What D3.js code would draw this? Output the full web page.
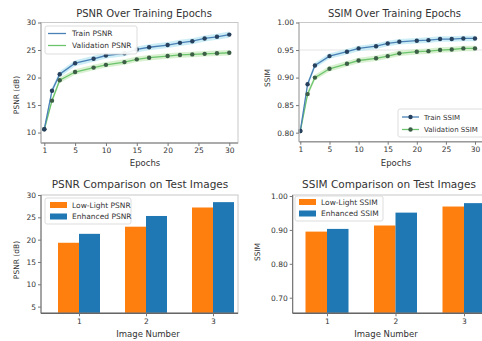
<!DOCTYPE html>
<html><head><meta charset="utf-8">
<script src="https://cdn.jsdelivr.net/npm/d3@7"></script>
<style>
html,body{margin:0;padding:0;background:#fff;}
svg{display:block;font-family:"DejaVu Sans",sans-serif;}
</style></head>
<body><svg id="c" width="482" height="341"></svg>
<script>
// ---- data ----
const epochs = [1,2,3,5,8,10,13,15,17,20,22,24,26,28,30];
const trainPSNR = [10.6,17.6,20.6,22.6,23.4,24.0,24.4,25.1,25.5,25.9,26.3,26.6,27.1,27.4,27.8];
const valPSNR   = [10.6,15.8,19.5,21.0,21.8,22.3,22.8,23.3,23.6,23.9,24.1,24.2,24.3,24.4,24.5];
const trainSSIM = [0.803,0.888,0.922,0.939,0.947,0.953,0.957,0.962,0.965,0.967,0.968,0.970,0.970,0.971,0.971];
const valSSIM   = [0.803,0.870,0.900,0.916,0.925,0.931,0.935,0.939,0.944,0.947,0.948,0.950,0.951,0.953,0.953];
const epochTicks = [1,5,10,15,20,25,30];
const psnrTicks = [10,15,20,25,30];
const ssimTicks = [0.80,0.85,0.90,0.95,1.00];

const images = [1,2,3];
const lowPSNR = [19.3,22.9,27.2];
const enhPSNR = [21.3,25.3,28.4];
const lowSSIM = [0.895,0.913,0.969];
const enhSSIM = [0.903,0.951,0.979];
const barPSNRTicks = [5,10,15,20,25,30];
const barSSIMTicks = [0.70,0.80,0.90,1.00];

const C = {train:"#4a80b5", trainDot:"#26405e", trainBand:"#bfe8f4",
           val:"#6cc46c", valDot:"#3c5e46", valBand:"#cfeec6",
           orange:"#ff7f0e", blue:"#1f77b4", text:"#333"};

const svg = d3.select("#c");

function frame(g, L, R, T, B, strong){
  g.append("rect").attr("x",L).attr("y",T).attr("width",R-L).attr("height",B-T)
   .attr("fill","none").attr("stroke","#c8c8c8").attr("stroke-width",1);
  g.append("line").attr("x1",L).attr("x2",R).attr("y1",B).attr("y2",B)
   .attr("stroke",strong?"#666":"#999").attr("stroke-width",1.4);
  g.append("line").attr("x1",L).attr("x2",L).attr("y1",T).attr("y2",B)
   .attr("stroke",strong?"#666":"#aaa").attr("stroke-width",1);
}
function styleAxis(a){
  a.select(".domain").remove();
  a.selectAll(".tick line").attr("stroke","#777");
  a.selectAll(".tick text").attr("fill",C.text).style("font-size","7.5px").style("font-family","DejaVu Sans");
}
function text(x,y,s,size,anchor,rot){
  const t = svg.append("text").attr("x",x).attr("y",y).text(s)
    .attr("fill",C.text).style("font-size",size+"px").attr("text-anchor",anchor||"middle");
  if(rot) t.attr("transform",`rotate(-90,${x},${y})`);
  return t;
}

// ---------- Panel A: PSNR over epochs ----------
(function(){
  const L=41,R=238,T=22.5,B=143;
  const x = d3.scaleLinear().domain([1,5,30]).range([44.3,75.1,229.3]);
  const y = d3.scaleLinear().domain([8.1,30]).range([B,T]);
  const g = svg.append("g");
  const bandT = d3.area().x((d,i)=>x(epochs[i])).y0(d=>y(d-0.55)).y1(d=>y(d+0.55));
  const bandV = d3.area().x((d,i)=>x(epochs[i])).y0(d=>y(d-0.5)).y1(d=>y(d+0.5));
  g.append("path").datum(trainPSNR).attr("d",bandT).attr("fill",C.trainBand).attr("opacity",0.8);
  g.append("path").datum(valPSNR).attr("d",bandV).attr("fill",C.valBand).attr("opacity",0.8);
  const line = d3.line().x((d,i)=>x(epochs[i])).y(d=>y(d));
  g.append("path").datum(valPSNR).attr("d",line).attr("fill","none").attr("stroke",C.val).attr("stroke-width",1.3);
  g.append("path").datum(trainPSNR).attr("d",line).attr("fill","none").attr("stroke",C.train).attr("stroke-width",1.3);
  g.selectAll(".dv").data(valPSNR).join("circle").attr("cx",(d,i)=>x(epochs[i])).attr("cy",d=>y(d)).attr("r",2.2).attr("fill",C.valDot);
  g.selectAll(".dt").data(trainPSNR).join("circle").attr("cx",(d,i)=>x(epochs[i])).attr("cy",d=>y(d)).attr("r",2.2).attr("fill",C.trainDot);
  frame(g,L,R,T,B,false);
  const ax = g.append("g").attr("transform",`translate(0,${B})`).call(d3.axisBottom(x).tickValues(epochTicks).tickSize(3).tickPadding(2).tickFormat(d3.format("d")));
  styleAxis(ax);
  const ay = g.append("g").attr("transform",`translate(${L},0)`).call(d3.axisLeft(y).tickValues(psnrTicks).tickSize(3).tickPadding(2).tickFormat(d3.format("d")));
  styleAxis(ay);
  const lg = g.append("g");
  lg.append("rect").attr("x",45).attr("y",26).attr("width",92).attr("height",28).attr("rx",2)
    .attr("fill","#fff").attr("fill-opacity",0.92).attr("stroke","#ddd");
  [["Train PSNR",C.train,33.5],["Validation PSNR",C.val,45.5]].forEach(([s,c,yy])=>{
    lg.append("line").attr("x1",48).attr("x2",66).attr("y1",yy).attr("y2",yy).attr("stroke",c).attr("stroke-width",1.3);
    lg.append("text").attr("x",72).attr("y",yy+2.6).text(s).attr("fill",C.text).style("font-size","7.5px");
  });
  text(144,17,"PSNR Over Training Epochs",10);
  text(145,166,"Epochs",8.5);
  text(19,95,"PSNR (dB)",7.5,"middle",true);
})();

// ---------- Panel B: SSIM over epochs ----------
(function(){
  const L=299,R=496,T=22.5,B=141.7;
  const x = d3.scaleLinear().domain([1,5,30]).range([300.3,329.5,475]);
  const y = d3.scaleLinear().domain([0.7836,1.0]).range([B,T]);
  const g = svg.append("g");
  g.append("line").attr("x1",L).attr("x2",R).attr("y1",y(0.95)).attr("y2",y(0.95)).attr("stroke","#ddd").attr("stroke-width",0.8);
  const bandT = d3.area().x((d,i)=>x(epochs[i])).y0(d=>y(d-0.005)).y1(d=>y(d+0.005));
  const bandV = d3.area().x((d,i)=>x(epochs[i])).y0(d=>y(d-0.005)).y1(d=>y(d+0.005));
  g.append("path").datum(trainSSIM).attr("d",bandT).attr("fill",C.trainBand).attr("opacity",0.8);
  g.append("path").datum(valSSIM).attr("d",bandV).attr("fill",C.valBand).attr("opacity",0.8);
  const line = d3.line().x((d,i)=>x(epochs[i])).y(d=>y(d));
  g.append("path").datum(valSSIM).attr("d",line).attr("fill","none").attr("stroke",C.val).attr("stroke-width",1.3);
  g.append("path").datum(trainSSIM).attr("d",line).attr("fill","none").attr("stroke",C.train).attr("stroke-width",1.3);
  g.selectAll(".dv").data(valSSIM).join("circle").attr("cx",(d,i)=>x(epochs[i])).attr("cy",d=>y(d)).attr("r",2.2).attr("fill",C.valDot);
  g.selectAll(".dt").data(trainSSIM).join("circle").attr("cx",(d,i)=>x(epochs[i])).attr("cy",d=>y(d)).attr("r",2.2).attr("fill",C.trainDot);
  frame(g,L,R,T,B,false);
  const ax = g.append("g").attr("transform",`translate(0,${B})`).call(d3.axisBottom(x).tickValues(epochTicks).tickSize(3).tickPadding(2).tickFormat(d3.format("d")));
  styleAxis(ax);
  const ay = g.append("g").attr("transform",`translate(${L},0)`).call(d3.axisLeft(y).tickValues(ssimTicks).tickSize(3).tickPadding(2).tickFormat(d3.format(".2f")));
  styleAxis(ay);
  const lg = g.append("g");
  lg.append("rect").attr("x",398).attr("y",109).attr("width",95).attr("height",28).attr("rx",2)
    .attr("fill","#fff").attr("fill-opacity",0.92).attr("stroke","#ddd");
  [["Train SSIM",C.train,C.trainDot,117],["Validation SSIM",C.val,C.valDot,129.5]].forEach(([s,c,dc,yy])=>{
    lg.append("line").attr("x1",402).attr("x2",419).attr("y1",yy).attr("y2",yy).attr("stroke",c).attr("stroke-width",1.3);
    lg.append("circle").attr("cx",410.5).attr("cy",yy).attr("r",2.2).attr("fill",dc);
    lg.append("text").attr("x",424).attr("y",yy+2.5).text(s).attr("fill",C.text).style("font-size","7px");
  });
  text(394.5,17,"SSIM Over Training Epochs",10);
  text(396,166,"Epochs",8.5);
  text(270,78,"SSIM",7.5,"middle",true);
})();

// ---------- Panel C: PSNR bars ----------
(function(){
  const L=41,R=238,T=195,B=313.3;
  const x = d3.scaleLinear().domain([1,3]).range([79,213]);
  const y = d3.scaleLinear().domain([3.5,30]).range([B,T]);
  const w = 21/67;
  const g = svg.append("g");
  g.selectAll(".lo").data(lowPSNR).join("rect")
    .attr("x",(d,i)=>x(images[i]-w)).attr("width",x(1+w)-x(1))
    .attr("y",d=>y(d)).attr("height",d=>B-y(d)).attr("fill",C.orange);
  g.selectAll(".hi").data(enhPSNR).join("rect")
    .attr("x",(d,i)=>x(images[i])).attr("width",x(1+w)-x(1))
    .attr("y",d=>y(d)).attr("height",d=>B-y(d)).attr("fill",C.blue);
  frame(g,L,R,T,B,true);
  const ax = g.append("g").attr("transform",`translate(0,${B})`).call(d3.axisBottom(x).tickValues(images).tickSize(3).tickPadding(2).tickFormat(d3.format("d")));
  styleAxis(ax);
  const ay = g.append("g").attr("transform",`translate(${L},0)`).call(d3.axisLeft(y).tickValues(barPSNRTicks).tickSize(3).tickPadding(2).tickFormat(d3.format("d")));
  styleAxis(ay);
  const lg = g.append("g");
  lg.append("rect").attr("x",45).attr("y",198).attr("width",86).attr("height",26).attr("rx",2)
    .attr("fill","#fff").attr("fill-opacity",0.9).attr("stroke","#ddd");
  [["Low-Light PSNR",C.orange,205],["Enhanced PSNR",C.blue,216.5]].forEach(([s,c,yy])=>{
    lg.append("rect").attr("x",50).attr("y",yy-3).attr("width",17).attr("height",6).attr("fill",c);
    lg.append("text").attr("x",72).attr("y",yy+2.6).text(s).attr("fill",C.text).style("font-size","7.5px");
  });
  text(140,188,"PSNR Comparison on Test Images",10.5);
  text(148,337,"Image Number",8.5);
  text(19,260,"PSNR (dB)",7.5,"middle",true);
})();

// ---------- Panel D: SSIM bars ----------
(function(){
  const L=292.7,R=496,T=195,B=313.3;
  const x = d3.scaleLinear().domain([1,3]).range([327,464]);
  const y = d3.scaleLinear().domain([0.654,1.003]).range([B,T]);
  const w = 21.5/68.5;
  const g = svg.append("g");
  g.selectAll(".lo").data(lowSSIM).join("rect")
    .attr("x",(d,i)=>x(images[i]-w)).attr("width",x(1+w)-x(1))
    .attr("y",d=>y(d)).attr("height",d=>B-y(d)).attr("fill",C.orange);
  g.selectAll(".hi").data(enhSSIM).join("rect")
    .attr("x",(d,i)=>x(images[i])).attr("width",x(1+w)-x(1))
    .attr("y",d=>y(d)).attr("height",d=>B-y(d)).attr("fill",C.blue);
  frame(g,L,R,T,B,true);
  const ax = g.append("g").attr("transform",`translate(0,${B})`).call(d3.axisBottom(x).tickValues(images).tickSize(3).tickPadding(2).tickFormat(d3.format("d")));
  styleAxis(ax);
  const ay = g.append("g").attr("transform",`translate(${L},0)`).call(d3.axisLeft(y).tickValues(barSSIMTicks).tickSize(3).tickPadding(2).tickFormat(d3.format(".2f")));
  styleAxis(ay);
  const lg = g.append("g");
  lg.append("rect").attr("x",295).attr("y",196).attr("width",88).attr("height",25).attr("rx",2)
    .attr("fill","#fff").attr("fill-opacity",0.9).attr("stroke","#ddd");
  [["Low-Light SSIM",C.orange,202],["Enhanced SSIM",C.blue,213.5]].forEach(([s,c,yy])=>{
    lg.append("rect").attr("x",299).attr("y",yy-3).attr("width",17).attr("height",6).attr("fill",c);
    lg.append("text").attr("x",321).attr("y",yy+2.6).text(s).attr("fill",C.text).style("font-size","7.5px");
  });
  text(389,188,"SSIM Comparison on Test Images",10.5);
  text(386,337,"Image Number",8.5);
  text(260,252,"SSIM",7.5,"middle",true);
})();
</script></body></html>
